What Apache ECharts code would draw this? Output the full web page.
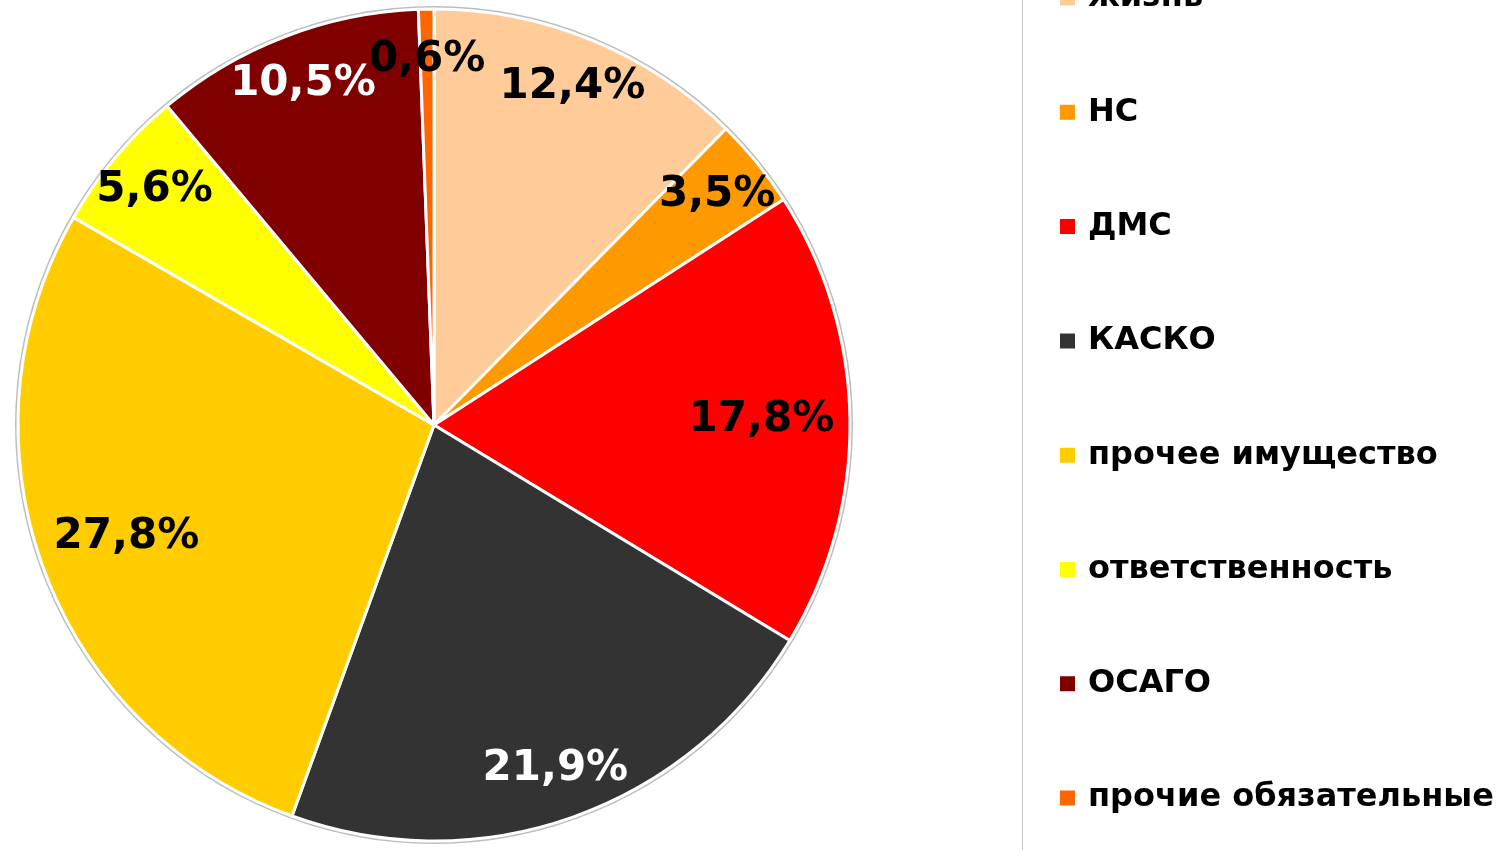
<!DOCTYPE html>
<html>
<head>
<meta charset="utf-8">
<title>Структура страховых премий</title>
<script src="https://cdn.jsdelivr.net/npm/echarts@6/dist/echarts.min.js"></script>
<style>
  html, body { margin: 0; padding: 0; background: #ffffff; }
  #chart { width: 1512px; height: 850px; }
</style>
</head>
<body>
<div id="chart"></div>
<script>
// Lines of insurance, in clockwise order from 12 o'clock
const categories = [
  'жизнь',
  'НС',
  'ДМС',
  'КАСКО',
  'прочее имущество',
  'ответственность',
  'ОСАГО',
  'прочие обязательные'
];

// Share of premiums, %
const shares = [12.4, 3.5, 17.8, 21.9, 27.8, 5.6, 10.5, 0.6];

const sliceColors = [
  '#FFCC99', '#FF9900', '#FF0000', '#333333',
  '#FFCC00', '#FFFF00', '#800000', '#FF6600'
];

// Slices whose percentage reads better in white
const whiteLabelSlices = ['КАСКО', 'ОСАГО'];
// Wide slices get their label a bit closer to the centre
const deepLabelSlices = ['ДМС', 'прочее имущество'];

const FONT = '"DejaVu Sans", Verdana, sans-serif';
const CENTER = [434, 425];
const R = 416;

const fmtPct = v => v.toFixed(1).replace('.', ',') + '%';

const pieData = categories.map((name, i) => ({
  name,
  value: shares[i],
  itemStyle: { color: sliceColors[i] }
}));

// Transparent ring carrying only the percentage labels for a given group
function labelRing(innerRadius, group) {
  return {
    type: 'pie',
    silent: true,
    center: CENTER,
    radius: [innerRadius, R],
    startAngle: 90,
    clockwise: true,
    avoidLabelOverlap: false,
    animation: false,
    z: 3,
    itemStyle: { color: 'rgba(0,0,0,0)', borderWidth: 0 },
    emphasis: { disabled: true },
    labelLine: { show: false },
    labelLayout: { hideOverlap: false },
    minShowLabelAngle: 0,
    data: categories.map((name, i) => ({
      name,
      value: shares[i],
      label: {
        show: group.includes(name),
        color: whiteLabelSlices.includes(name) ? '#ffffff' : '#000000'
      }
    })),
    label: {
      position: 'inside',
      formatter: p => fmtPct(p.value),
      fontFamily: FONT,
      fontWeight: 'bold',
      fontSize: 42
    }
  };
}

const outerGroup = categories.filter(n => !deepLabelSlices.includes(n));

const chart = echarts.init(document.getElementById('chart'), null, { renderer: 'canvas' });

chart.setOption({
  backgroundColor: '#ffffff',
  animation: false,
  graphic: [{
    type: 'line',
    silent: true,
    shape: { x1: 1022.5, y1: 0, x2: 1022.5, y2: 850 },
    style: { stroke: '#c8c8c8', lineWidth: 1 }
  }],
  legend: {
    data: categories,
    orient: 'vertical',
    left: 1058,
    top: -20,
    padding: 0,
    itemWidth: 17,
    itemHeight: 17,
    itemGap: 78.3,
    icon: 'rect',
    selectedMode: false,
    textStyle: {
      fontFamily: FONT,
      fontWeight: 'bold',
      fontSize: 32,
      lineHeight: 36,
      color: '#000000',
      padding: [0, 0, 0, 7]
    }
  },
  series: [
    {
      // thin grey rim around the pie
      type: 'pie',
      silent: true,
      center: CENTER,
      radius: [0, R + 3],
      z: 1,
      label: { show: false },
      labelLine: { show: false },
      emphasis: { disabled: true },
      itemStyle: { color: '#bdbdbd', borderWidth: 0 },
      data: [{ name: '', value: 1 }]
    },
    {
      name: 'Премии',
      type: 'pie',
      center: CENTER,
      radius: [0, R],
      startAngle: 90,
      clockwise: true,
      z: 2,
      avoidLabelOverlap: false,
      label: { show: false },
      labelLine: { show: false },
      emphasis: { disabled: true },
      itemStyle: { borderColor: '#ffffff', borderWidth: 3 },
      data: pieData
    },
    labelRing(R * 0.74, outerGroup),
    labelRing(R * 0.56, deepLabelSlices)
  ]
});
</script>
</body>
</html>
